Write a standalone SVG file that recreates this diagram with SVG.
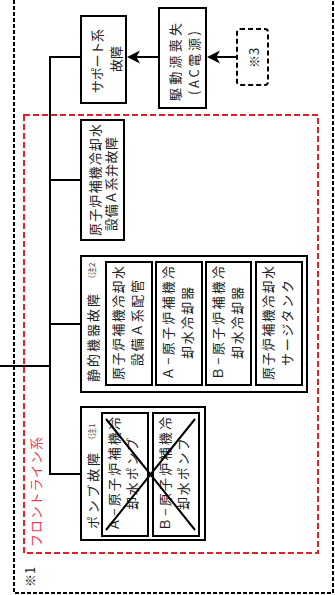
<svg xmlns="http://www.w3.org/2000/svg" width="335" height="595" viewBox="0 0 335 595">
<defs>
<style>
.bx{fill:#fff;stroke:#000;stroke-width:2}
.ln{fill:none;stroke:#000;stroke-width:2}
.ah{fill:#000;stroke:none}
.t{font-family:"Noto Sans CJK JP","Liberation Sans",sans-serif;font-size:13px;fill:#222;text-anchor:middle;dominant-baseline:central}
.s{font-family:"Noto Sans CJK JP","Liberation Sans",sans-serif;font-size:13px;fill:#222;text-anchor:start;dominant-baseline:central}
.n{font-family:"Noto Sans CJK JP","Liberation Sans",sans-serif;font-size:8px;fill:#444;text-anchor:start;dominant-baseline:central}
</style>
</defs>
<rect width="335" height="595" fill="#fff"/>
<g id="outer">
<rect x="14" y="-10" width="319" height="603" fill="none" stroke="#000" stroke-width="2" stroke-dasharray="4,2"/>
<text class="s" transform="translate(29,587) rotate(-90)">※1</text>
</g>
<g id="frontline">
<rect x="24" y="115" width="294" height="438" fill="none" stroke="#e0202a" stroke-width="2" stroke-dasharray="6,3"/>
<text class="s" transform="translate(35,547) rotate(-90)" style="fill:#e8405a" textLength="110" lengthAdjust="spacing">フロントライン系</text>
</g>
<g id="connectors">
<path class="ln" d="M0,366 H50 M126,57 H50 V474 H81 M50,180 H81 M50,324 H81"/>
<path class="ln" d="M237,57 H214 M159,57 H134"/>
<polygon class="ah" points="207,57 220,50.5 216.5,57 220,63.5"/>
<polygon class="ah" points="127,57 140,50.5 136.5,57 140,63.5"/>
</g>
<g id="support">
<rect class="bx" x="81" y="16" width="45" height="87"/>
<text class="t" transform="translate(96,61) rotate(-90)" textLength="64" lengthAdjust="spacing">サポート系</text>
<text class="t" transform="translate(115,59) rotate(-90)">故障</text>
</g>
<g id="power">
<rect class="bx" x="159" y="8" width="47" height="100"/>
<text class="t" transform="translate(174,62) rotate(-90)" textLength="78" lengthAdjust="spacing">駆動源喪失</text>
<text class="t" transform="translate(193,63) rotate(-90)" textLength="64" lengthAdjust="spacing">(AC電源)</text>
</g>
<g id="note3">
<rect x="237" y="29" width="31" height="56" rx="3" fill="#fff" stroke="#000" stroke-width="2" stroke-dasharray="5,3"/>
<text class="t" transform="translate(253,58) rotate(-90)">※3</text>
</g>
<g id="valve">
<rect class="bx" x="81" y="120" width="43" height="120"/>
<text class="t" transform="translate(94,180) rotate(-90)" textLength="112" lengthAdjust="spacing">原子炉補機冷却水</text>
<text class="t" transform="translate(110,184) rotate(-90)" textLength="94" lengthAdjust="spacing">設備Ａ系弁故障</text>
</g>
<g id="static">
<rect class="bx" x="81" y="256" width="226" height="136"/>
<text class="s" transform="translate(92,382) rotate(-90)" textLength="88" lengthAdjust="spacing">静的機器故障</text>
<text class="n" transform="translate(91,283) rotate(-90)">（注2</text>
<rect class="bx" x="106" y="262" width="46" height="123"/>
<text class="t" transform="translate(117,323) rotate(-90)" textLength="114" lengthAdjust="spacing">原子炉補機冷却水</text>
<text class="t" transform="translate(136,323) rotate(-90)" textLength="86" lengthAdjust="spacing">設備Ａ系配管</text>
<rect class="bx" x="156" y="262" width="46" height="123"/>
<text class="t" transform="translate(167,323) rotate(-90)" textLength="114" lengthAdjust="spacing">Ａ−原子炉補機冷</text>
<text class="t" transform="translate(186,323) rotate(-90)" textLength="72" lengthAdjust="spacing">却水冷却器</text>
<rect class="bx" x="206" y="262" width="45" height="123"/>
<text class="t" transform="translate(217,323) rotate(-90)" textLength="114" lengthAdjust="spacing">Ｂ−原子炉補機冷</text>
<text class="t" transform="translate(236,323) rotate(-90)" textLength="72" lengthAdjust="spacing">却水冷却器</text>
<rect class="bx" x="256" y="262" width="46" height="123"/>
<text class="t" transform="translate(267,323) rotate(-90)" textLength="114" lengthAdjust="spacing">原子炉補機冷却水</text>
<text class="t" transform="translate(286,323) rotate(-90)" textLength="86" lengthAdjust="spacing">サージタンク</text>
</g>
<g id="pump">
<rect class="bx" x="81" y="407" width="124" height="133"/>
<text class="s" transform="translate(92,529) rotate(-90)" textLength="76" lengthAdjust="spacing">ポンプ故障</text>
<text class="n" transform="translate(91,444) rotate(-90)">（注1</text>
<rect class="bx" x="102" y="413" width="46" height="123"/>
<text class="t" transform="translate(113,474) rotate(-90)" textLength="114" lengthAdjust="spacing">Ａ−原子炉補機冷</text>
<text class="t" transform="translate(131,474) rotate(-90)" textLength="72" lengthAdjust="spacing">却水ポンプ</text>
<rect class="bx" x="153" y="413" width="46" height="123"/>
<text class="t" transform="translate(164,474) rotate(-90)" textLength="114" lengthAdjust="spacing">Ｂ−原子炉補機冷</text>
<text class="t" transform="translate(182,474) rotate(-90)" textLength="72" lengthAdjust="spacing">却水ポンプ</text>
<path d="M106,419 L195,530 M106,530 L195,419" stroke="#000" stroke-width="2" fill="none"/>
</g>
</svg>
